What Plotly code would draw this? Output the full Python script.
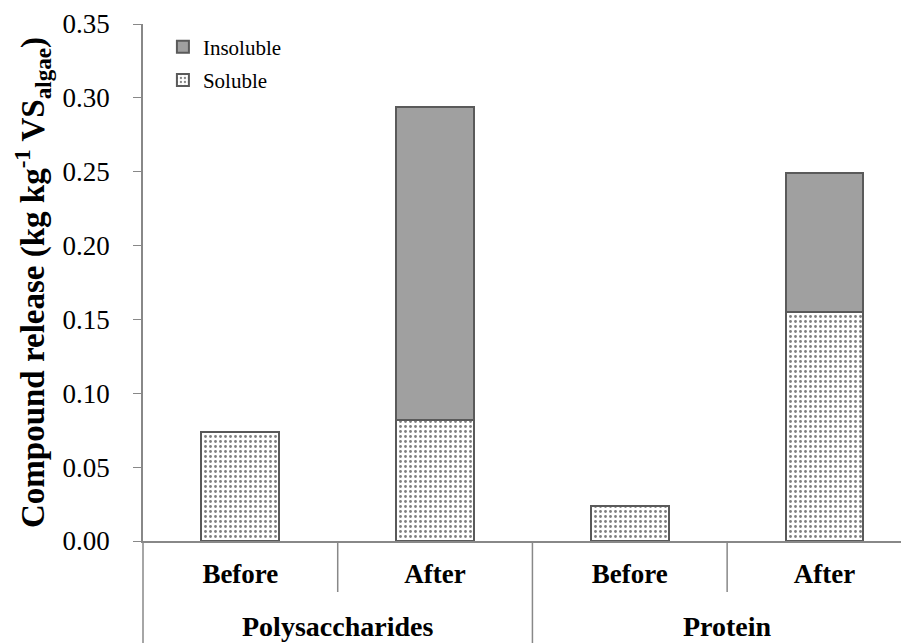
import plotly.graph_objects as go

groups = ["Polysaccharides", "Protein"]
stages = ["Before", "After", "Before", "After"]
soluble = [0.074, 0.082, 0.024, 0.155]
insoluble = [0.0, 0.212, 0.0, 0.094]
y_ticks = [0.0, 0.05, 0.10, 0.15, 0.20, 0.25, 0.30, 0.35]

xpos = list(range(len(stages)))
outline = dict(color="#5a5a5a", width=2)
FONT = "Liberation Serif"

# page body has an 8px margin: figure coordinates are screenshot - 8
L, T, B_SCR = 135, 16, 533
PH = B_SCR - T

fig = go.Figure()
fig.add_trace(go.Bar(
    x=xpos, y=soluble, name="Soluble", width=0.4, legendgroup="sol", legendrank=2,
    marker=dict(color="white", line=outline,
                pattern=dict(shape=".", fgcolor="black", bgcolor="white", size=5, solidity=0.25)),
))
fig.add_trace(go.Bar(
    x=xpos, y=insoluble, name="Insoluble", width=0.4, legendgroup="ins", legendrank=1,
    marker=dict(color="#a0a0a0", line=outline),
))

fig.update_layout(
    barmode="stack",
    width=909, height=643,
    margin=dict(l=L, r=8, t=T, b=643 - B_SCR, autoexpand=False),
    paper_bgcolor="white", plot_bgcolor="white",
    font=dict(family=FONT, color="black"),
    showlegend=True,
    legend=dict(x=0.026, y=0.995, xanchor="left", yanchor="top",
                traceorder="grouped", tracegroupgap=3,
                font=dict(size=21, family=FONT),
                bgcolor="rgba(0,0,0,0)", itemwidth=30),
)

fig.update_xaxes(
    range=[-0.5, 3.434], tickvals=xpos, ticktext=stages,
    tickfont=dict(size=27, family=FONT, weight="bold"),
    showline=True, linecolor="#888888", linewidth=1.5,
    ticks="", ticklabelstandoff=8, showgrid=False, zeroline=False,
)
fig.update_yaxes(
    range=[0, 0.35], tickvals=y_ticks, ticktext=[f"{v:.2f}" for v in y_ticks],
    tickfont=dict(size=27, family=FONT),
    showline=True, linecolor="#888888", linewidth=1.5,
    ticks="outside", ticklen=8, tickcolor="#888888", ticklabelstandoff=18,
    showgrid=False, zeroline=False,
    title=dict(text="Compound release (kg kg<sup>-1</sup> VS<sub>algae</sub>)",
               font=dict(size=33, family=FONT, weight="bold"), standoff=8),
)

short_y = -51 / PH
long_y = -115 / PH
for xv, yb in [(0.5, short_y), (1.5, long_y), (2.5, short_y)]:
    fig.add_shape(type="line", xref="x", yref="paper", x0=xv, x1=xv, y0=0, y1=yb,
                  line=dict(color="#888888", width=1.5))
fig.add_shape(type="line", xref="paper", yref="paper", x0=0, x1=0, y0=0, y1=long_y,
              line=dict(color="#888888", width=1.5))

for gi, g in enumerate(groups):
    fig.add_annotation(text=f"<b>{g}</b>", x=0.5 + 2 * gi, xref="x",
                       y=-85.5 / PH, yref="paper", showarrow=False,
                       yanchor="middle", font=dict(size=28, family=FONT))

fig.write_html("out.html")
